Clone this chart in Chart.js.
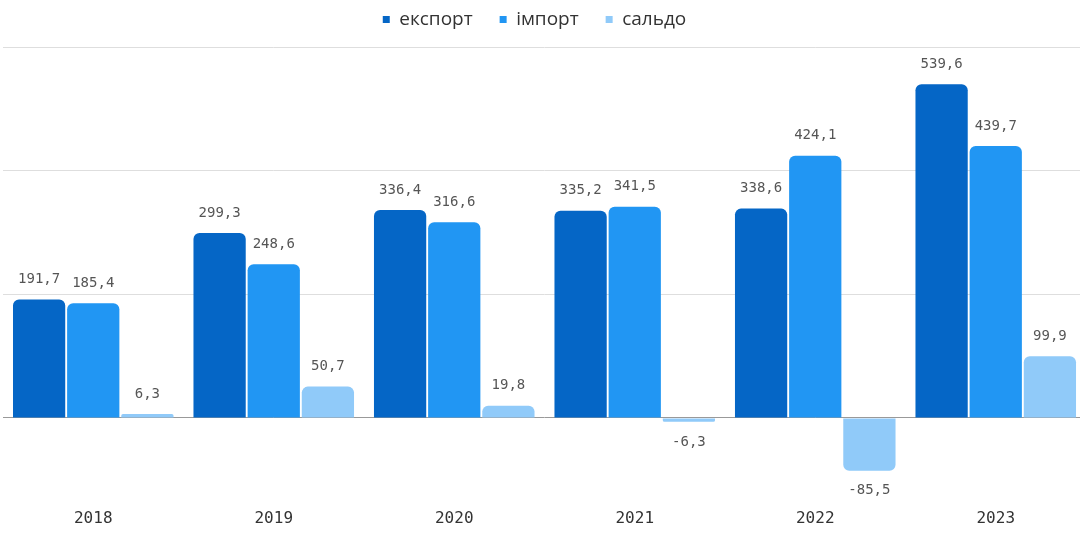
<!DOCTYPE html>
<html>
<head>
<meta charset="utf-8">
<script src="https://cdn.jsdelivr.net/npm/chart.js@4.4.0/dist/chart.umd.min.js"></script>
<style>
  html, body { margin: 0; padding: 0; background: #fff; overflow: hidden; }
  canvas { display: block; }
</style>
</head>
<body>
<canvas id="trade" width="1088" height="561"></canvas>
<script>
// Зовнішня торгівля по роках
const years = ['2018', '2019', '2020', '2021', '2022', '2023'];
const exportVals = [191.7, 299.3, 336.4, 335.2, 338.6, 539.6];
const importVals = [185.4, 248.6, 316.6, 341.5, 424.1, 439.7];
const balanceVals = [6.3, 50.7, 19.8, -6.3, -85.5, 99.9];
const gridTicks = [0, 200, 400, 600];

// фіксована висота легенди і зсув трохи вліво
const legendBox = {
    id: 'legendBox',
    beforeInit(chart) {
        const fit = chart.legend.fit;
        chart.legend.fit = function() {
            fit.bind(chart.legend)();
            this.height = 64;
        };
    },
    afterLayout(chart) {
        chart.legend.left -= 10;
        chart.legend.right -= 10;
    }
};

// підписи значень над / під стовпчиками
const valueLabels = {
    id: 'valueLabels',
    afterDatasetsDraw(chart) {
        const ctx = chart.ctx;
        ctx.save();
        ctx.font = '14px "DejaVu Sans Mono", monospace';
        ctx.fillStyle = '#555';
        ctx.textAlign = 'center';
        ctx.textBaseline = 'middle';
        chart.data.datasets.forEach((ds, i) => {
            chart.getDatasetMeta(i).data.forEach((bar, j) => {
                const v = ds.data[j];
                const txt = v.toFixed(1).replace('.', ',');
                const y = v >= 0 ? bar.y - 20 : bar.y + 20;
                ctx.fillText(txt, bar.x, y);
            });
        });
        ctx.restore();
    }
};

const ctx = document.getElementById('trade');
new Chart(ctx, {
    type: 'bar',
    data: {
        labels: years,
        datasets: [
            { label: 'експорт', data: exportVals, backgroundColor: '#0566c6' },
            { label: 'імпорт', data: importVals, backgroundColor: '#2196f3' },
            { label: 'сальдо', data: balanceVals, backgroundColor: '#90caf9' }
        ]
    },
    options: {
        responsive: false,
        animation: false,
        layout: { padding: { left: 3, right: 2, top: -17, bottom: 12 } },
        datasets: {
            bar: {
                categoryPercentage: 0.9,
                barPercentage: 0.965,
                borderRadius: 6,
                borderSkipped: 'start'
            }
        },
        plugins: {
            legend: {
                position: 'top',
                labels: {
                    usePointStyle: true,
                    pointStyle: 'rect',
                    boxWidth: 7,
                    boxHeight: 7,
                    padding: 27,
                    color: '#333',
                    font: { family: '"Open Sans", sans-serif', size: 19 }
                }
            },
            tooltip: { enabled: false }
        },
        scales: {
            x: {
                grid: { display: false },
                border: { display: false },
                ticks: {
                    padding: 21,
                    color: '#333',
                    font: { family: '"DejaVu Sans Mono", monospace', size: 16 }
                }
            },
            y: {
                min: -100,
                max: 600,
                afterBuildTicks: axis => {
                    axis.ticks = gridTicks.map(v => ({ value: v }));
                },
                grid: {
                    drawTicks: false,
                    color: c => c.tick.value === 0 ? '#999' : '#dedede'
                },
                border: { display: false },
                ticks: { display: false }
            }
        }
    },
    plugins: [legendBox, valueLabels]
});
</script>
</body>
</html>
